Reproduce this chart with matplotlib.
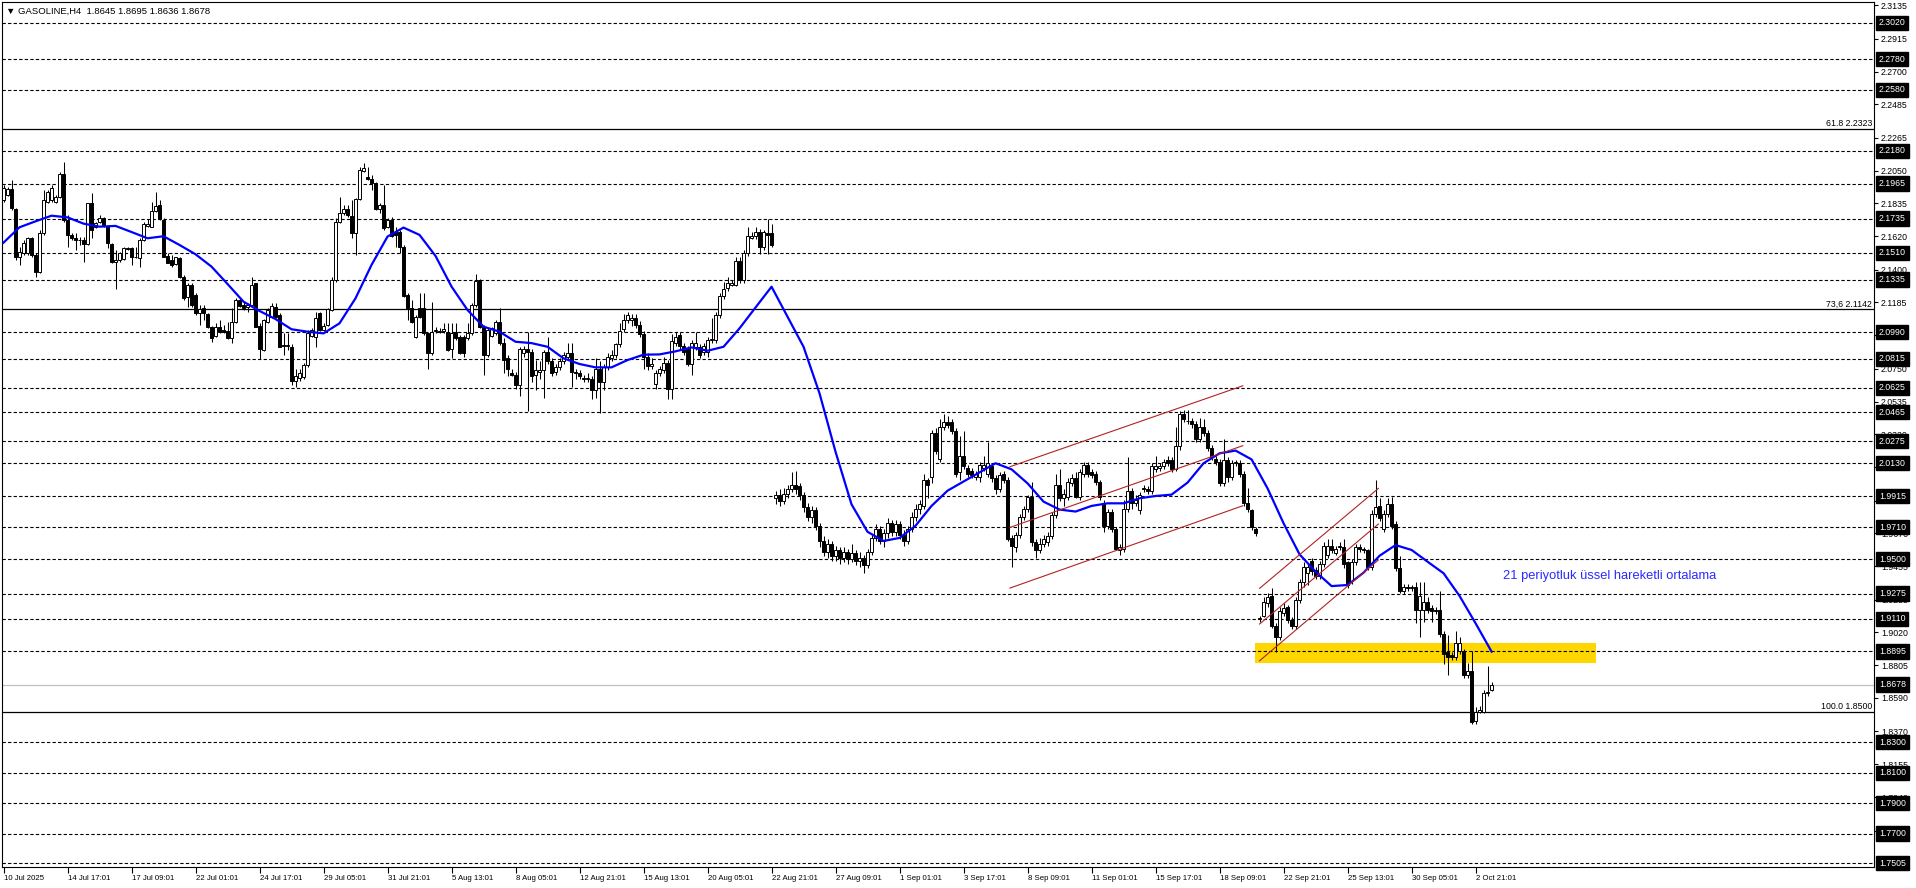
import numpy as np
import matplotlib.pyplot as plt
from matplotlib.patches import Rectangle

plt.rcParams['font.family'] = ['Liberation Sans', 'DejaVu Sans']

# H4 bars (index 0 = 10 Jul 2025)
o = [2.1857, 2.1890, 2.1927, 2.1796, 2.1485, 2.1512, 2.1507, 2.1606, 2.1496, 2.1387,
     2.1643, 2.1846, 2.1857, 2.1846, 2.1875, 2.2026, 2.1726, 2.1627, 2.1606, 2.1595,
     2.1595, 2.1568, 2.1835, 2.1678, 2.1715, 2.1741, 2.1687, 2.1568, 2.1453, 2.1463,
     2.1468, 2.1540, 2.1540, 2.1481, 2.1474, 2.1595, 2.1687, 2.1682, 2.1787, 2.1824,
     2.1726, 2.1490, 2.1463, 2.1437, 2.1474, 2.1354, 2.1223, 2.1299, 2.1234, 2.1118,
     2.1146, 2.1107, 2.1026, 2.0965, 2.1022, 2.1004, 2.1000, 2.0950, 2.1059, 2.1201,
     2.1168, 2.1157, 2.1168, 2.1310, 2.1030, 2.0873, 2.1059, 2.1092, 2.1157, 2.1103,
     2.0904, 2.0901, 2.0895, 2.0670, 2.0690, 2.0698, 2.0775, 2.0965, 2.0960, 2.1118,
     2.1004, 2.1037, 2.1135, 2.1332, 2.1715, 2.1770, 2.1796, 2.1752, 2.1638, 2.1862,
     2.2050, 2.2010, 2.1993, 2.1971, 2.1796, 2.1824, 2.1678, 2.1726, 2.1649, 2.1649,
     2.1551, 2.1234, 2.1146, 2.0960, 2.1146, 2.1146, 2.0982, 2.0851, 2.0998, 2.0991,
     2.1000, 2.0993, 2.0877, 2.0993, 2.0960, 2.0960, 2.0950, 2.0982, 2.1168, 2.1332,
     2.1026, 2.0840, 2.0965, 2.0982, 2.1059,
     2.092, 2.082, 2.072, 2.071, 2.064, 2.085, 2.088, 2.086, 2.071, 2.073,
     2.074, 2.086, 2.080, 2.073, 2.076, 2.080, 2.083, 2.085, 2.073, 2.072,
     2.068, 2.068, 2.068, 2.061, 2.075, 2.066, 2.076, 2.082, 2.084, 2.091,
     2.101, 2.107, 2.107, 2.108, 2.104, 2.098, 2.083, 2.077, 2.065, 2.072,
     2.074, 2.079, 2.062, 2.092, 2.097, 2.090, 2.088, 2.078, 2.089, 2.089,
     2.086, 2.086, 2.094, 2.094, 2.110, 2.123, 2.128, 2.130, 2.130, 2.146,
     2.133, 2.151, 2.161, 2.162, 2.165, 2.155, 2.164, 2.164,
     1.990, 1.992, 1.988, 1.993, 1.996, 1.999, 1.998, 1.992, 1.984, 1.978,
     1.982, 1.972, 1.962, 1.955, 1.960, 1.952, 1.956, 1.951, 1.955, 1.950,
     1.954, 1.949, 1.951, 1.946, 1.955, 1.964, 1.970, 1.962, 1.967, 1.974,
     1.968, 1.973, 1.966, 1.962, 1.970, 1.978, 1.983,
     1.985, 2.002, 2.004, 2.033, 2.016, 2.037, 2.040, 2.040, 2.034, 2.007,
     2.018, 2.010, 2.008, 2.004, 2.004, 2.010, 2.006, 2.011, 2.003, 1.996,
     2.006, 2.002, 1.964, 1.958, 1.966, 1.978, 1.983, 1.991, 1.961, 1.956,
     1.960, 1.961, 1.965, 1.979, 1.999, 1.990, 1.991, 2.000, 2.003, 1.991,
     2.006, 2.012, 2.007, 2.006, 2.001, 1.987, 1.972, 1.981, 1.970, 1.956,
     1.957, 1.983, 1.995, 1.987, 1.982, 1.996, 1.996, 1.995, 2.009, 2.010,
     2.011, 2.015, 2.015, 2.009, 2.024, 2.045, 2.041, 2.041, 2.039, 2.029,
     2.037, 2.033, 2.023, 2.016, 2.014, 2.000, 2.015, 2.004, 2.013, 2.013,
     2.006, 1.987, 1.982, 1.970,
     1.911, 1.913, 1.921, 1.926, 1.906, 1.899, 1.915, 1.919, 1.910, 1.906,
     1.923, 1.935, 1.941, 1.949, 1.943, 1.939, 1.947, 1.953, 1.959, 1.954,
     1.959, 1.958, 1.948, 1.936, 1.948, 1.958, 1.957, 1.956, 1.945, 1.980,
     1.985, 1.970, 1.980, 1.986, 1.973, 1.944, 1.929, 1.932, 1.932, 1.932,
     1.917, 1.917, 1.922, 1.918, 1.917, 1.917, 1.901, 1.889, 1.887, 1.886,
     1.890, 1.890, 1.874, 1.877, 1.844, 1.850, 1.850, 1.862, 1.8645]
h = [2.1956, 2.1945, 2.1988, 2.1802, 2.1551, 2.1595, 2.1617, 2.1617, 2.1507, 2.1660,
     2.1923, 2.1923, 2.1956, 2.1890, 2.2043, 2.2109, 2.1759, 2.1638, 2.1638, 2.1617,
     2.1617, 2.1840, 2.1901, 2.1715, 2.1759, 2.1748, 2.1693, 2.1573, 2.1529, 2.1518,
     2.1551, 2.1550, 2.1551, 2.1551, 2.1606, 2.1715, 2.1730, 2.1846, 2.1912, 2.1857,
     2.1737, 2.1507, 2.1496, 2.1485, 2.1485, 2.1365, 2.1310, 2.1310, 2.1245, 2.1168,
     2.1168, 2.1113, 2.1030, 2.1048, 2.1070, 2.1037, 2.1059, 2.1146, 2.1212, 2.1212,
     2.1190, 2.1179, 2.1354, 2.1315, 2.1048, 2.1074, 2.1146, 2.1179, 2.1179, 2.1113,
     2.0982, 2.0982, 2.0910, 2.0750, 2.0750, 2.0785, 2.1004, 2.1015, 2.1125, 2.1125,
     2.1048, 2.1146, 2.1354, 2.1737, 2.1879, 2.1824, 2.1824, 2.1857, 2.1868, 2.2076,
     2.2098, 2.2076, 2.2021, 2.1977, 2.1835, 2.1956, 2.1737, 2.1748, 2.1682, 2.1660,
     2.1562, 2.1245, 2.1201, 2.1103, 2.1245, 2.1245, 2.0993, 2.1190, 2.1026, 2.1015,
     2.1048, 2.1048, 2.1048, 2.1052, 2.0971, 2.0971, 2.1048, 2.1179, 2.1372, 2.1337,
     2.1037, 2.1015, 2.1026, 2.1070, 2.1146,
     2.095, 2.084, 2.075, 2.073, 2.089, 2.090, 2.099, 2.088, 2.081, 2.080,
     2.087, 2.096, 2.082, 2.078, 2.082, 2.086, 2.092, 2.092, 2.075, 2.074,
     2.071, 2.072, 2.070, 2.082, 2.080, 2.078, 2.085, 2.087, 2.092, 2.105,
     2.111, 2.112, 2.111, 2.111, 2.106, 2.100, 2.085, 2.082, 2.074, 2.077,
     2.083, 2.081, 2.098, 2.099, 2.099, 2.092, 2.090, 2.094, 2.099, 2.091,
     2.092, 2.096, 2.108, 2.112, 2.125, 2.132, 2.135, 2.133, 2.148, 2.148,
     2.153, 2.168, 2.165, 2.168, 2.167, 2.166, 2.173, 2.170,
     1.995, 1.996, 1.997, 1.999, 2.007, 2.008, 2.000, 1.994, 1.987, 1.985,
     1.984, 1.974, 1.965, 1.963, 1.962, 1.959, 1.958, 1.958, 1.957, 1.960,
     1.956, 1.955, 1.953, 1.957, 1.966, 1.973, 1.972, 1.970, 1.977, 1.976,
     1.976, 1.975, 1.969, 1.972, 1.981, 1.986, 1.989,
     2.006, 2.003, 2.035, 2.036, 2.042, 2.045, 2.044, 2.042, 2.036, 2.031,
     2.034, 2.012, 2.010, 2.008, 2.014, 2.018, 2.027, 2.013, 2.005, 2.007,
     2.008, 2.004, 1.966, 1.968, 1.980, 1.985, 1.992, 2.001, 1.963, 1.964,
     1.966, 1.968, 1.981, 2.006, 2.009, 1.996, 2.003, 2.006, 2.007, 2.009,
     2.014, 2.014, 2.009, 2.008, 2.002, 1.989, 1.983, 1.983, 1.971, 1.960,
     1.989, 2.017, 1.997, 1.992, 1.994, 1.999, 1.998, 2.013, 2.018, 2.013,
     2.016, 2.018, 2.017, 2.037, 2.047, 2.048, 2.048, 2.043, 2.041, 2.043,
     2.042, 2.035, 2.025, 2.018, 2.016, 2.029, 2.017, 2.015, 2.015, 2.015,
     2.008, 1.997, 1.983, 1.971,
     1.913, 1.925, 1.928, 1.931, 1.908, 1.919, 1.921, 1.920, 1.912, 1.925,
     1.937, 1.948, 1.947, 1.951, 1.945, 1.949, 1.961, 1.963, 1.963, 1.959,
     1.961, 1.963, 1.949, 1.950, 1.960, 1.960, 1.958, 1.957, 1.982, 2.002,
     1.990, 1.982, 1.990, 1.991, 1.975, 1.952, 1.934, 1.934, 1.933, 1.935,
     1.935, 1.935, 1.925, 1.920, 1.919, 1.929, 1.903, 1.900, 1.889, 1.903,
     1.899, 1.891, 1.882, 1.890, 1.853, 1.854, 1.864, 1.880, 1.8695]
l = [2.1846, 2.1883, 2.1792, 2.1463, 2.1431, 2.1496, 2.1496, 2.1485, 2.1350, 2.1376,
     2.1627, 2.1835, 2.1846, 2.1835, 2.1868, 2.1715, 2.1551, 2.1595, 2.1529, 2.1562,
     2.1453, 2.1562, 2.1606, 2.1671, 2.1704, 2.1682, 2.1540, 2.1446, 2.1271, 2.1453,
     2.1463, 2.1529, 2.1431, 2.1474, 2.1420, 2.1590, 2.1682, 2.1678, 2.1781, 2.1726,
     2.1481, 2.1442, 2.1420, 2.1431, 2.1343, 2.1201, 2.1157, 2.1157, 2.1103, 2.1037,
     2.1070, 2.1015, 2.0928, 2.0960, 2.0982, 2.0982, 2.0943, 2.0917, 2.1052, 2.1157,
     2.1135, 2.1125, 2.1157, 2.1022, 2.0812, 2.0869, 2.1048, 2.1081, 2.1081, 2.0891,
     2.0840, 2.0873, 2.0640, 2.0630, 2.0670, 2.0685, 2.0764, 2.0960, 2.0895, 2.1000,
     2.1000, 2.1030, 2.1131, 2.1321, 2.1704, 2.1759, 2.1748, 2.1606, 2.1496, 2.1857,
     2.2043, 2.1988, 2.1923, 2.1792, 2.1770, 2.1660, 2.1671, 2.1617, 2.1551, 2.1507,
     2.1223, 2.1070, 2.1052, 2.0950, 2.1081, 2.0971, 2.0746, 2.0840, 2.0982, 2.0982,
     2.0982, 2.0869, 2.0818, 2.0939, 2.0847, 2.0829, 2.0939, 2.0971, 2.1157, 2.1015,
     2.0709, 2.0829, 2.0960, 2.0971, 2.0906,
     2.072, 2.070, 2.070, 2.062, 2.057, 2.083, 2.047, 2.066, 2.061, 2.068,
     2.056, 2.078, 2.070, 2.071, 2.074, 2.078, 2.081, 2.063, 2.068, 2.068,
     2.066, 2.066, 2.055, 2.056, 2.046, 2.061, 2.074, 2.080, 2.082, 2.089,
     2.099, 2.105, 2.103, 2.102, 2.096, 2.075, 2.074, 2.075, 2.062, 2.070,
     2.072, 2.055, 2.055, 2.090, 2.088, 2.084, 2.077, 2.071, 2.087, 2.082,
     2.084, 2.083, 2.092, 2.092, 2.108, 2.121, 2.126, 2.129, 2.129, 2.131,
     2.131, 2.149, 2.160, 2.160, 2.150, 2.153, 2.150, 2.155,
     1.986, 1.985, 1.986, 1.990, 1.994, 1.993, 1.989, 1.981, 1.975, 1.974,
     1.969, 1.958, 1.952, 1.951, 1.949, 1.949, 1.947, 1.948, 1.947, 1.948,
     1.946, 1.945, 1.941, 1.944, 1.953, 1.962, 1.960, 1.958, 1.964, 1.965,
     1.965, 1.963, 1.959, 1.960, 1.968, 1.975, 1.980,
     1.983, 1.990, 2.000, 2.019, 2.014, 2.035, 2.036, 2.032, 2.004, 2.002,
     2.009, 2.004, 2.003, 2.002, 2.001, 2.008, 2.004, 2.001, 1.993, 1.994,
     2.000, 1.962, 1.945, 1.955, 1.964, 1.976, 1.981, 1.959, 1.951, 1.954,
     1.958, 1.959, 1.963, 1.977, 1.988, 1.985, 1.989, 1.998, 1.990, 1.989,
     2.004, 2.004, 2.003, 1.999, 1.989, 1.968, 1.970, 1.968, 1.956, 1.953,
     1.955, 1.981, 1.983, 1.985, 1.980, 1.994, 1.993, 1.993, 2.007, 2.008,
     2.009, 2.011, 2.007, 2.008, 2.022, 2.040, 2.039, 2.036, 2.027, 2.027,
     2.031, 2.021, 2.015, 2.012, 1.998, 1.998, 2.001, 2.002, 2.011, 2.004,
     1.985, 1.981, 1.969, 1.965,
     1.909, 1.912, 1.919, 1.905, 1.889, 1.897, 1.913, 1.908, 1.904, 1.904,
     1.921, 1.932, 1.933, 1.940, 1.937, 1.937, 1.945, 1.951, 1.954, 1.953,
     1.956, 1.944, 1.931, 1.934, 1.946, 1.955, 1.954, 1.943, 1.943, 1.978,
     1.975, 1.968, 1.978, 1.970, 1.942, 1.928, 1.927, 1.929, 1.929, 1.908,
     1.899, 1.909, 1.915, 1.909, 1.914, 1.899, 1.881, 1.874, 1.884, 1.884,
     1.888, 1.872, 1.872, 1.842, 1.842, 1.849, 1.849, 1.860, 1.8636]
c = [2.1934, 2.1929, 2.1802, 2.1485, 2.1518, 2.1577, 2.1606, 2.1496, 2.1387, 2.1643,
     2.1857, 2.1912, 2.1934, 2.1875, 2.2028, 2.1726, 2.1627, 2.1606, 2.1595, 2.1593,
     2.1568, 2.1835, 2.1660, 2.1704, 2.1737, 2.1693, 2.1573, 2.1453, 2.1463, 2.1507,
     2.1540, 2.1538, 2.1481, 2.1485, 2.1595, 2.1700, 2.1700, 2.1787, 2.1818, 2.1730,
     2.1485, 2.1446, 2.1431, 2.1481, 2.1354, 2.1212, 2.1299, 2.1168, 2.1113, 2.1140,
     2.1113, 2.1026, 2.0950, 2.1022, 2.0993, 2.0993, 2.0950, 2.1059, 2.1201, 2.1164,
     2.1146, 2.1166, 2.1299, 2.1026, 2.0877, 2.1070, 2.1135, 2.1162, 2.1092, 2.0895,
     2.0899, 2.0903, 2.0670, 2.0700, 2.0720, 2.0775, 2.0982, 2.1004, 2.1081, 2.1004,
     2.1030, 2.1140, 2.1332, 2.1715, 2.1770, 2.1796, 2.1759, 2.1638, 2.1862, 2.2054,
     2.2065, 2.1993, 2.1966, 2.1796, 2.1824, 2.1671, 2.1726, 2.1621, 2.1627, 2.1551,
     2.1227, 2.1146, 2.1059, 2.1092, 2.1092, 2.0982, 2.0851, 2.0993, 2.1002, 2.0996,
     2.1009, 2.0873, 2.0982, 2.0950, 2.0851, 2.0851, 2.0982, 2.1168, 2.1328, 2.1026,
     2.0840, 2.1004, 2.1015, 2.1059, 2.0917,
     2.081, 2.075, 2.071, 2.064, 2.088, 2.088, 2.086, 2.070, 2.074, 2.074,
     2.086, 2.080, 2.072, 2.076, 2.080, 2.084, 2.085, 2.073, 2.072, 2.070,
     2.069, 2.069, 2.061, 2.075, 2.066, 2.076, 2.083, 2.084, 2.091, 2.100,
     2.107, 2.110, 2.108, 2.104, 2.098, 2.083, 2.077, 2.078, 2.072, 2.075,
     2.079, 2.062, 2.093, 2.096, 2.090, 2.086, 2.078, 2.092, 2.092, 2.084,
     2.090, 2.094, 2.0945, 2.110, 2.123, 2.127, 2.131, 2.131, 2.146, 2.133,
     2.151, 2.162, 2.162, 2.165, 2.155, 2.165, 2.163, 2.156,
     1.992, 1.988, 1.993, 1.996, 1.999, 1.996, 1.992, 1.984, 1.978, 1.982,
     1.972, 1.962, 1.955, 1.960, 1.952, 1.956, 1.951, 1.955, 1.950, 1.954,
     1.949, 1.951, 1.946, 1.955, 1.964, 1.970, 1.962, 1.967, 1.974, 1.968,
     1.973, 1.966, 1.962, 1.970, 1.978, 1.983, 1.986,
     2.002, 1.999, 2.033, 2.021, 2.037, 2.040, 2.038, 2.034, 2.006, 2.018,
     2.011, 2.006, 2.005, 2.006, 2.012, 2.012, 2.013, 2.003, 1.996, 2.005,
     2.002, 1.963, 1.959, 1.966, 1.978, 1.983, 1.991, 1.961, 1.956, 1.960,
     1.963, 1.965, 1.979, 1.999, 1.990, 1.993, 2.001, 2.003, 1.991, 2.007,
     2.012, 2.006, 2.005, 2.001, 1.991, 1.972, 1.981, 1.970, 1.957, 1.958,
     1.983, 1.995, 1.987, 1.989, 1.992, 1.9965, 1.995, 2.011, 2.011, 2.011,
     2.014, 2.013, 2.009, 2.024, 2.045, 2.042, 2.041, 2.039, 2.029, 2.037,
     2.033, 2.023, 2.017, 2.014, 2.000, 2.015, 2.004, 2.013, 2.0135, 2.006,
     1.987, 1.983, 1.971, 1.967,
     1.9115, 1.922, 1.925, 1.906, 1.899, 1.916, 1.918, 1.910, 1.906, 1.923,
     1.935, 1.945, 1.945, 1.942, 1.939, 1.947, 1.959, 1.959, 1.956, 1.957,
     1.958, 1.947, 1.933, 1.948, 1.958, 1.957, 1.956, 1.945, 1.980, 1.984,
     1.977, 1.980, 1.986, 1.972, 1.944, 1.929, 1.932, 1.931, 1.931, 1.917,
     1.926, 1.922, 1.917, 1.916, 1.916, 1.901, 1.888, 1.886, 1.886, 1.895,
     1.895, 1.874, 1.877, 1.843, 1.850, 1.851, 1.862, 1.863, 1.8678]

# 21 period EMA, read every 4th bar
ema = [2.1577, 2.1678, 2.1717, 2.1754, 2.1743, 2.1702, 2.1682, 2.1687, 2.1647, 2.1606,
       2.1619, 2.1562, 2.1501, 2.1420, 2.1306, 2.1190, 2.1129, 2.1076, 2.1009, 2.0993,
       2.0982, 2.1048, 2.1212, 2.1431, 2.1617, 2.1676, 2.1628, 2.1490, 2.1289, 2.1135,
       2.1026, 2.0993, 2.0927, 2.0918, 2.0894, 2.0818, 2.0781, 2.0759, 2.0759, 2.0807,
       2.0842, 2.0844, 2.0864, 2.0890, 2.0868, 2.0894, 2.1015, 2.1152, 2.1288, 2.1091,
       2.0894, 2.0588, 2.0205, 1.9860, 1.9680, 1.9620, 1.9640, 1.9720, 1.9850, 1.9950,
       2.0010, 2.0070, 2.0130, 2.0090, 1.9998, 1.9878, 1.9826, 1.9813, 1.9850, 1.9867,
       1.9867, 1.9900, 1.9915, 1.9924, 2.0003, 2.0130, 2.0195, 2.0213, 2.0155, 1.9965,
       1.9736, 1.9532, 1.9419, 1.9324, 1.9331, 1.9412, 1.9523, 1.9593, 1.9561, 1.9484,
       1.9408, 1.9259, 1.9080, 1.8894]

levels = [2.3020, 2.2780, 2.2580, 2.2180, 2.1965, 2.1735, 2.1510, 2.1335, 2.0990, 2.0815,
          2.0625, 2.0465, 2.0275, 2.0130, 1.9915, 1.9710, 1.9500, 1.9275, 1.9110, 1.8895,
          1.8300, 1.8100, 1.7900, 1.7700, 1.7505]
fib_levels = [2.2323, 2.1142, 1.8500]
fib_names = ['61.8 2.2323', '73,6 2.1142', '100.0 1.8500']
last_price = 1.8678
price_ticks = [2.3135, 2.2915, 2.2700, 2.2485, 2.2265, 2.2050, 2.1835, 2.1620, 2.1400,
               2.1185, 2.0970, 2.0750, 2.0535, 2.0320, 2.0105, 1.9885, 1.9670, 1.9455,
               1.9235, 1.9020, 1.8805, 1.8590, 1.8370, 1.8155, 1.7940, 1.7720]
date_labels = ['10 Jul 2025', '14 Jul 17:01', '17 Jul 09:01', '22 Jul 01:01', '24 Jul 17:01',
               '29 Jul 05:01', '31 Jul 21:01', '5 Aug 13:01', '8 Aug 05:01', '12 Aug 21:01',
               '15 Aug 13:01', '20 Aug 05:01', '22 Aug 21:01', '27 Aug 09:01', '1 Sep 01:01',
               '3 Sep 17:01', '8 Sep 09:01', '11 Sep 01:01', '15 Sep 17:01', '18 Sep 09:01',
               '22 Sep 21:01', '25 Sep 13:01', '30 Sep 05:01', '2 Oct 21:01']
# trend channels: (bar0, price0, bar1, price1)
channels = [(251.6, 2.0107, 309.8, 2.0638), (251.6, 1.9709, 309.8, 2.0245),
            (251.6, 1.9311, 309.8, 1.9851),
            (314.0, 1.9309, 343.7, 1.9965), (314.0, 1.9075, 343.7, 1.9731),
            (314.0, 1.8834, 343.7, 1.9495)]
zone = (312.9, 398.1, 1.8822, 1.8949)
note = '21 periyotluk üssel hareketli ortalama'

o, h, l, c = map(np.array, (o, h, l, c))
n = len(c)
x = np.arange(n)
ema_x = np.arange(0, n, 4)

fig = plt.figure(figsize=(19.16, 8.88), dpi=100)
ax = fig.add_axes([2 / 1916, 21 / 888, 1872 / 1916, 865 / 888])
ax.set_xlim(-0.375, 467.6)
ax.set_ylim(1.7481, 2.3156)

ax.add_patch(Rectangle((zone[0], zone[2]), zone[1] - zone[0], zone[3] - zone[2],
                       facecolor='#ffd700', edgecolor='none', zorder=1))
for lv in levels:
    ax.axhline(lv, color='black', lw=0.8, ls=(0, (3, 2)), zorder=1.5)
for lv in fib_levels:
    ax.axhline(lv, color='black', lw=0.9, zorder=1.5)
ax.axhline(last_price, color='#c0c0c0', lw=0.9, zorder=1.5)

up = c >= o
ax.vlines(x, l, h, color='black', lw=0.75, zorder=2)
ax.bar(x[up], c[up] - o[up], bottom=o[up], width=0.62, color='white',
       edgecolor='black', linewidth=0.7, zorder=3)
ax.bar(x[~up], c[~up] - o[~up], bottom=o[~up], width=0.62, color='black',
       edgecolor='black', linewidth=0.7, zorder=3)

ax.plot(ema_x, ema, color='#0000ff', lw=1.6, zorder=4)
for b0, p0, b1, p1 in channels:
    ax.plot([b0, b1], [p0, p1], color='#b22222', lw=0.8, zorder=4)

ax.text(374.9, 1.939, note, color='#2a2aff', fontsize=9.3, va='center', ha='left')

# right price scale
ax.yaxis.tick_right()
ax.set_yticks(price_ticks)
ax.set_yticklabels([f'{v:.4f}' for v in price_ticks])
ax.tick_params(axis='y', length=3, width=0.8, pad=2, labelsize=6.3, direction='out')
ty = ax.get_yaxis_transform()
for lv in levels + [last_price]:
    ax.text(1.0 + 5 / 1872, lv, f'{lv:.4f}', transform=ty, color='white', fontsize=6.3,
            va='center', ha='left', clip_on=False, zorder=6,
            bbox=dict(boxstyle='square,pad=0.3', fc='black', ec='black'))
for lv, name in zip(fib_levels, fib_names):
    ax.text(1.0 - 2 / 1872, lv + 0.0004, name, transform=ty, fontsize=6.3,
            ha='right', va='bottom')

# time scale
ax.set_xticks(np.arange(len(date_labels)) * 16)
ax.set_xticklabels(date_labels)
ax.tick_params(axis='x', length=4, width=0.8, pad=1.5, labelsize=5.6, direction='out')
for lab in ax.get_xticklabels():
    lab.set_ha('left')

for s in ax.spines.values():
    s.set_linewidth(0.8)

fig.text(6 / 1916, 1 - 11 / 888, '▼ GASOLINE,H4  1.8645 1.8695 1.8636 1.8678',
         fontsize=6.8, va='center', ha='left')

fig.savefig('out.png', dpi=100)
